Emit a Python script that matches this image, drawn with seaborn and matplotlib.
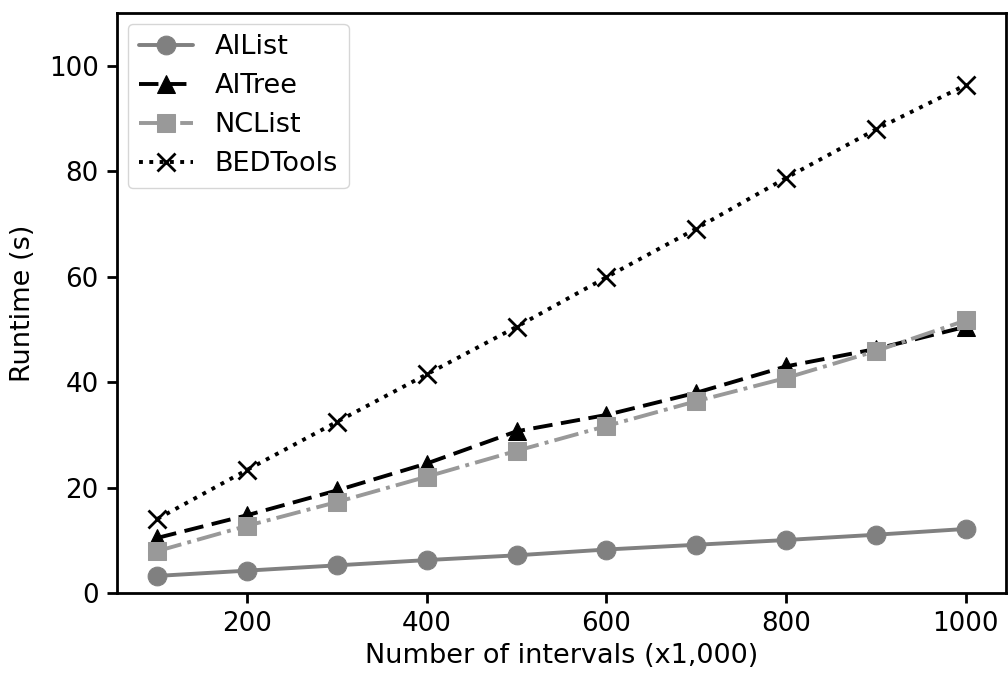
import pandas as pd
import matplotlib
matplotlib.use("Agg")
import matplotlib.pyplot as plt
import seaborn as sns

# Values
intervals = [100, 200, 300, 400, 500, 600, 700, 800, 900, 1000]
ailist = [3.3, 4.3, 5.3, 6.3, 7.2, 8.3, 9.2, 10.1, 11.1, 12.2]
aitree = [10.5, 14.8, 19.5, 24.6, 30.7, 33.8, 38.0, 43.0, 46.3, 50.5]
nclist = [8.0, 12.8, 17.3, 22.1, 27.0, 31.7, 36.4, 40.8, 45.9, 51.7]
bedtools = [14.1, 23.4, 32.5, 41.5, 50.5, 59.9, 69.1, 78.7, 87.9, 96.3]

series = {"AIList": ailist, "AITree": aitree, "NCList": nclist, "BEDTools": bedtools}
styles = {
    "AIList": dict(color="#808080", linestyle="-", marker="o", markersize=13.5),
    "AITree": dict(color="black", linestyle=(0, (5, 2.2)), marker="^", markersize=13.5),
    "NCList": dict(color="#999999", linestyle="-.", marker="s", markersize=13.5),
    "BEDTools": dict(color="black", linestyle=":", marker="x", markersize=13.5, markeredgewidth=2),
}

df = pd.concat([pd.DataFrame({"x": intervals, "runtime": v, "method": k})
                for k, v in series.items()])

sns.set_style("ticks")
plt.rcParams["font.family"] = ["DejaVu Sans"]
plt.rcParams["text.color"] = "black"
plt.rcParams["axes.labelcolor"] = "black"
plt.rcParams["xtick.color"] = "black"
plt.rcParams["ytick.color"] = "black"

FS = 19.5

fig, ax = plt.subplots(figsize=(10.08, 6.75), dpi=100)
fig.subplots_adjust(left=0.116, right=0.998, top=0.981, bottom=0.121)

for name in series:
    sub = df[df["method"] == name]
    sns.lineplot(data=sub, x="x", y="runtime", ax=ax, label=name,
                 linewidth=2.8, markeredgecolor=styles[name]["color"], **styles[name])

ax.set_ylim(0, 110)
ax.set_xticks([200, 400, 600, 800, 1000])
ax.set_yticks([0, 20, 40, 60, 80, 100])
ax.set_xlabel("Number of intervals (x1,000)", fontsize=FS, labelpad=4)
ax.set_ylabel("Runtime (s)", fontsize=FS, labelpad=9)
ax.tick_params(labelsize=18.8, width=2, length=7, direction="out", pad=6)
for sp in ax.spines.values():
    sp.set_visible(True)
    sp.set_linewidth(2)
    sp.set_color("black")

leg = ax.legend(loc="upper left", fontsize=FS, frameon=True, handlelength=2.0,
                borderaxespad=0.4, labelspacing=0.48)
leg.get_frame().set_edgecolor("#cccccc")

plt.savefig("out.png", dpi=100)
plt.close()
